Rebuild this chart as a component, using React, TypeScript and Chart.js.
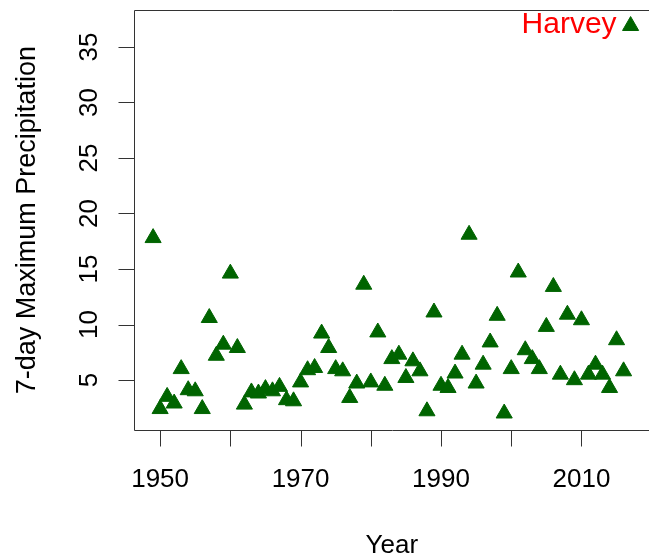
import { useEffect, useRef } from "react";
import { Chart, registerables } from "chart.js";

Chart.register(...registerables);

// Annual 7-day maximum precipitation, one value per year
const years = [
  1949, 1950, 1951, 1952, 1953, 1954, 1955, 1956, 1957, 1958,
  1959, 1960, 1961, 1962, 1963, 1964, 1965, 1966, 1967, 1968,
  1969, 1970, 1971, 1972, 1973, 1974, 1975, 1976, 1977, 1978,
  1979, 1980, 1981, 1982, 1983, 1984, 1985, 1986, 1987, 1988,
  1989, 1990, 1991, 1992, 1993, 1994, 1995, 1996, 1997, 1998,
  1999, 2000, 2001, 2002, 2003, 2004, 2005, 2006, 2007, 2008,
  2009, 2010, 2011, 2012, 2013, 2014, 2015, 2016, 2017,
];
const maxPrecip = [
  17.8, 2.4, 3.5, 2.9, 6.0, 4.1, 4.0, 2.4, 10.6, 7.2,
  8.2, 14.6, 7.9, 2.8, 3.9, 3.8, 4.2, 4.0, 4.4, 3.2,
  3.1, 4.8, 5.9, 6.1, 9.2, 7.9, 6.0, 5.8, 3.4, 4.7,
  13.6, 4.8, 9.3, 4.5, 6.9, 7.3, 5.2, 6.7, 5.8, 2.2,
  11.1, 4.5, 4.3, 5.6, 7.3, 18.1, 4.7, 6.4, 8.4, 10.8,
  2.0, 6.0, 14.7, 7.7, 6.9, 6.0, 9.8, 13.4, 5.5, 10.9,
  5.0, 10.4, 5.5, 6.4, 5.5, 4.3, 8.6, 5.8, 36.9,
];

const xTickValues = [1950, 1960, 1970, 1980, 1990, 2000, 2010, 2020];
const xTickLabels = ["1950", "", "1970", "", "1990", "", "2010", ""];
const yTickValues = [5, 10, 15, 20, 25, 30, 35];
const yTickLabels = ["5", "10", "15", "20", "25", "30", "35"];

const xTitle = "Year";
const yTitle = "7-day Maximum Precipitation";
const stormYear = 2017;
const stormName = "Harvey";

const FONT = "'Liberation Sans', Arial, Helvetica, sans-serif";
const MARK = "#006400";

// Draws the base-graphics style frame: open box, outward ticks, rotated y labels, titles
const frame = {
  id: "frame",
  afterDraw(chart: any) {
    const ctx: CanvasRenderingContext2D = chart.ctx;
    const { left, top, right, bottom } = chart.chartArea;
    const xs = chart.scales.x;
    const ys = chart.scales.y;
    const L = Math.round(left) + 0.5;
    const T = Math.round(top) + 0.5;
    const B = Math.round(bottom) + 0.5;
    const R = Math.round(right) + 0.5;
    ctx.save();
    ctx.strokeStyle = "#333";
    ctx.lineWidth = 1;
    ctx.beginPath();
    ctx.moveTo(R, T);
    ctx.lineTo(L, T);
    ctx.lineTo(L, B);
    ctx.lineTo(R, B);
    ctx.lineTo(R, T);
    ctx.stroke();

    const tickLen = 16;
    ctx.fillStyle = "#000";
    ctx.font = `26px ${FONT}`;
    // x axis
    ctx.textAlign = "center";
    ctx.textBaseline = "alphabetic";
    xTickValues.forEach((v, i) => {
      const px = Math.round(xs.getPixelForValue(v)) + 0.5;
      ctx.beginPath();
      ctx.moveTo(px, B);
      ctx.lineTo(px, B + tickLen);
      ctx.stroke();
      if (xTickLabels[i]) ctx.fillText(xTickLabels[i], xs.getPixelForValue(v), 487);
    });
    // y axis
    yTickValues.forEach((v, i) => {
      const py = Math.round(ys.getPixelForValue(v)) + 0.5;
      ctx.beginPath();
      ctx.moveTo(L, py);
      ctx.lineTo(L - tickLen, py);
      ctx.stroke();
      ctx.save();
      ctx.translate(97, ys.getPixelForValue(v));
      ctx.rotate(-Math.PI / 2);
      ctx.fillText(yTickLabels[i], 0, 0);
      ctx.restore();
    });

    // axis titles
    ctx.fillText(xTitle, (left + right) / 2, 553);
    ctx.save();
    ctx.font = `27px ${FONT}`;
    ctx.translate(35, (top + bottom) / 2);
    ctx.rotate(-Math.PI / 2);
    ctx.fillText(yTitle, 0, 0);
    ctx.restore();

    // storm label to the left of its point
    const idx = years.indexOf(stormYear);
    const sx = xs.getPixelForValue(stormYear);
    const sy = ys.getPixelForValue(maxPrecip[idx]);
    ctx.fillStyle = "#ff0000";
    ctx.font = `30px ${FONT}`;
    ctx.textAlign = "right";
    ctx.fillText(stormName, sx - 14, sy + 7);
    ctx.restore();
  },
};

export default function App() {
  const ref = useRef<HTMLCanvasElement | null>(null);

  useEffect(() => {
    if (!ref.current) return;
    const points = years.map((y, i) => ({ x: y, y: maxPrecip[i] }));
    const chart = new Chart(ref.current, {
      type: "scatter",
      data: {
        datasets: [
          {
            data: points,
            pointStyle: "triangle",
            pointRadius: 9.3,
            pointBackgroundColor: MARK,
            pointBorderColor: MARK,
            pointBorderWidth: 1,
          },
        ],
      },
      options: {
        responsive: false,
        animation: false,
        devicePixelRatio: 1,
        layout: { padding: { left: 134, top: 10, right: 8, bottom: 128 } },
        plugins: { legend: { display: false }, tooltip: { enabled: false } },
        scales: {
          x: { type: "linear", min: 1946.28, max: 2019.72, display: false },
          y: { type: "linear", min: 0.5, max: 38.3, display: false },
        },
      },
      plugins: [frame],
    });
    return () => chart.destroy();
  }, []);

  return (
    <div
      style={{
        position: "fixed",
        left: 0,
        top: 0,
        width: 649,
        height: 558,
        overflow: "hidden",
        background: "#fff",
      }}
    >
      <canvas ref={ref} width={660} height={558} style={{ width: 660, height: 558, display: "block" }} />
    </div>
  );
}
